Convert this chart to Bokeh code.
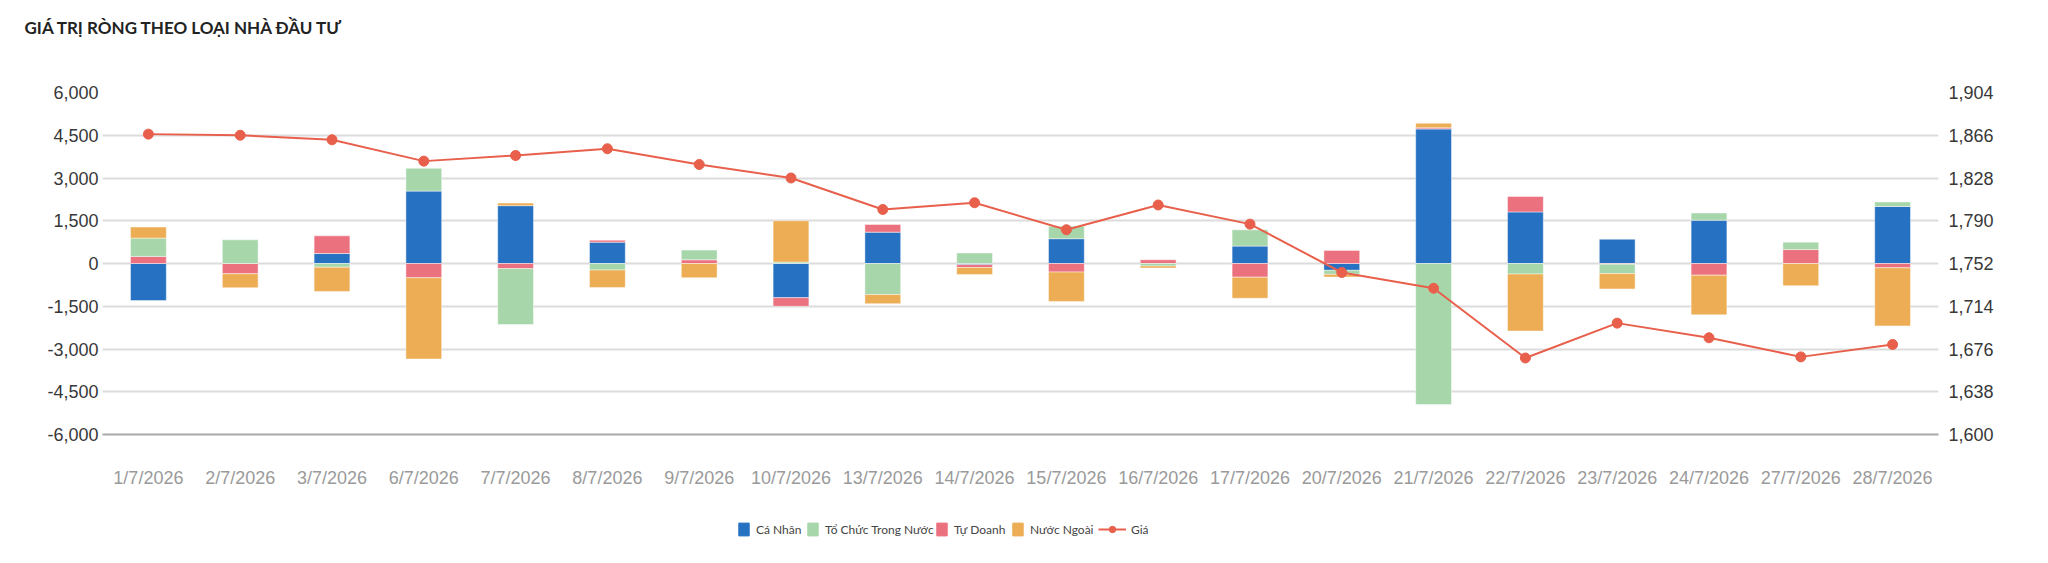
import numpy as np
from bokeh.plotting import figure
from bokeh.layouts import column
from bokeh.models import (ColumnDataSource, Range1d, LinearAxis, FixedTicker,
                          NumeralTickFormatter, Legend, LegendItem)
from bokeh.embed import file_html
from bokeh.resources import INLINE

dates = ["1/7/2026", "2/7/2026", "3/7/2026", "6/7/2026", "7/7/2026", "8/7/2026",
         "9/7/2026", "10/7/2026", "13/7/2026", "14/7/2026", "15/7/2026", "16/7/2026",
         "17/7/2026", "20/7/2026", "21/7/2026", "22/7/2026", "23/7/2026", "24/7/2026",
         "27/7/2026", "28/7/2026"]

ca_nhan = [-1300, 0, 350, 2540, 2030, 750, 0, -1200, 1100, -40, 870, 0,
           610, -240, 4720, 1810, 850, 1520, 0, 2000]
to_chuc = [640, 830, -130, 800, -1960, -230, 340, 50, -1090, 370, 440, -90,
           570, -140, -4950, -370, -330, 250, 260, 160]
tu_doanh = [250, -360, 620, -500, -180, 70, 130, -300, 270, -100, -300, 130,
            -480, 460, 40, 540, -25, -410, 490, -150]
nuoc_ngoai = [390, -490, -850, -2850, 90, -610, -500, 1450, -320, -250, -1030, -70,
              -740, -95, 160, -2000, -540, -1390, -780, -2040]
gia = [1867, 1866, 1862, 1843, 1848, 1854, 1840, 1828, 1800, 1806, 1782, 1804,
       1787, 1744, 1730, 1668, 1699, 1686, 1669, 1680]

left_ticks = [-6000, -4500, -3000, -1500, 0, 1500, 3000, 4500, 6000]
right_ticks = [1600, 1638, 1676, 1714, 1752, 1790, 1828, 1866, 1904]

title_text = "GIÁ TRỊ RÒNG THEO LOẠI NHÀ ĐẦU TƯ"
legend_labels = ["Cá Nhân", "Tổ Chức Trong Nước", "Tự Doanh", "Nước Ngoài", "Giá"]

BLUE = "#2671C2"
GREEN = "#A7D6AA"
RED = "#EC717F"
ORANGE = "#ECAD55"
LINE = "#E8604C"

W = 2048
TOP_H = 60
LEG_H = 50
MAIN_H = 563 - TOP_H - LEG_H
FRAME_L = 102


def strip(h, top_border, x_range):
    f = figure(width=W, height=h, output_backend="svg", toolbar_location=None,
               x_range=x_range, y_range=Range1d(0, 1),
               x_axis_type=None, y_axis_type=None,
               min_border_left=0, min_border_right=0, min_border_top=top_border,
               min_border_bottom=0)
    f.outline_line_color = None
    f.xgrid.visible = False
    f.ygrid.visible = False
    f.background_fill_color = "white"
    f.border_fill_color = "white"
    return f


# ---- main chart
p = figure(x_range=dates, y_range=Range1d(-6000, 6000), width=W, height=MAIN_H,
           output_backend="svg", toolbar_location=None,
           min_border_left=FRAME_L, min_border_right=110, min_border_top=92 - TOP_H,
           min_border_bottom=MAIN_H - (92 - TOP_H) - 342)
p.outline_line_color = None
p.background_fill_color = "white"
p.border_fill_color = "white"

order = [("Cá Nhân", ca_nhan, BLUE), ("Tự Doanh", tu_doanh, RED),
         ("Tổ Chức Trong Nước", to_chuc, GREEN), ("Nước Ngoài", nuoc_ngoai, ORANGE)]
stack = {}
pos = np.zeros(len(dates))
neg = np.zeros(len(dates))
for name, vals, col in order:
    v = np.array(vals, dtype=float)
    bottom = np.where(v >= 0, pos, neg)
    top = bottom + v
    pos = np.where(v >= 0, top, pos)
    neg = np.where(v < 0, top, neg)
    stack[name] = (bottom, top, col)
    src = ColumnDataSource(dict(x=dates, bottom=bottom, top=top))
    p.vbar(x="x", top="top", bottom="bottom", width=0.39, source=src,
           fill_color=col, line_color="white", line_alpha=0.45, line_width=1)

p.extra_y_ranges = {"price": Range1d(1600, 1904)}
lsrc = ColumnDataSource(dict(x=dates, y=gia))
p.line(x="x", y="y", source=lsrc, y_range_name="price", line_color=LINE, line_width=2)
p.scatter(x="x", y="y", source=lsrc, y_range_name="price", size=10,
          fill_color=LINE, line_color=LINE)

right_axis = LinearAxis(y_range_name="price", ticker=FixedTicker(ticks=right_ticks),
                        formatter=NumeralTickFormatter(format="0,0"))
p.add_layout(right_axis, "right")

p.yaxis[0].ticker = FixedTicker(ticks=left_ticks)
p.yaxis[0].formatter = NumeralTickFormatter(format="0,0")

for ax in p.yaxis:
    ax.axis_line_color = None
    ax.major_tick_line_color = None
    ax.minor_tick_line_color = None
    ax.major_tick_out = 0
    ax.major_tick_in = 0
    ax.major_label_text_font = "Liberation Sans"
    ax.major_label_text_font_size = "18px"
    ax.major_label_text_color = "#383838"
p.yaxis[0].major_label_standoff = 4
right_axis.major_label_standoff = 10

xa = p.xaxis[0]
xa.axis_line_color = "#A8A8A8"
xa.axis_line_width = 2
xa.major_tick_line_color = None
xa.minor_tick_line_color = None
xa.major_tick_out = 0
xa.major_tick_in = 0
xa.major_label_standoff = 33
xa.major_label_text_font = "Liberation Sans"
xa.major_label_text_font_size = "18px"
xa.major_label_text_color = "#9A9A9A"

p.xgrid.visible = False
p.ygrid.grid_line_color = "#DCDCDC"
p.ygrid.grid_line_width = 2

# ---- title strip (title sits in the strip's own title panel)
tf = strip(TOP_H, 50, p.x_range)
tf.title.text = title_text
tf.title.align = "left"
tf.title.offset = 24 - FRAME_L
tf.title.standoff = 28
tf.title.text_font = "Lato"
tf.title.text_font_style = "bold"
tf.title.text_font_size = "17px"
tf.title.text_color = "#222222"

# ---- legend strip: hidden copies of the series provide the legend keys
lf = strip(LEG_H, 0, p.x_range)
lf.y_range = Range1d(0, LEG_H)

key_rends = []
for name in ["Cá Nhân", "Tổ Chức Trong Nước", "Tự Doanh", "Nước Ngoài"]:
    bottom, top, col = stack[name]
    r = lf.vbar(x=dates, top=top, bottom=bottom, width=0.39,
                fill_color=col, line_color=col, visible=False)
    key_rends.append([r])
kl = lf.line(x=dates, y=gia, line_color=LINE, line_width=2, visible=False)
ks = lf.scatter(x=dates, y=gia, size=9, fill_color=LINE, line_color=LINE, visible=False)
key_rends.append([kl, ks])

key_x = [737, 806, 935, 1011, 1098]
key_w = [13, 13, 13, 13, 28]
for i in range(5):
    lg = Legend(items=[LegendItem(label=legend_labels[i], renderers=key_rends[i])],
                orientation="horizontal", location=(key_x[i] - FRAME_L, LEG_H - 16 - 8))
    lg.label_text_font = "Lato"
    lg.label_text_font_size = "12px"
    lg.label_text_color = "#444444"
    lg.glyph_width = key_w[i]
    lg.glyph_height = 16
    lg.label_height = 16
    lg.label_standoff = 6 if i < 4 else 5
    lg.padding = 0
    lg.margin = 0
    lg.border_line_color = None
    lg.background_fill_alpha = 0
    lg.inactive_fill_alpha = 0
    lf.add_layout(lg)

layout = column(tf, p, lf, spacing=0)
open("out.html", "w").write(file_html(layout, INLINE))
